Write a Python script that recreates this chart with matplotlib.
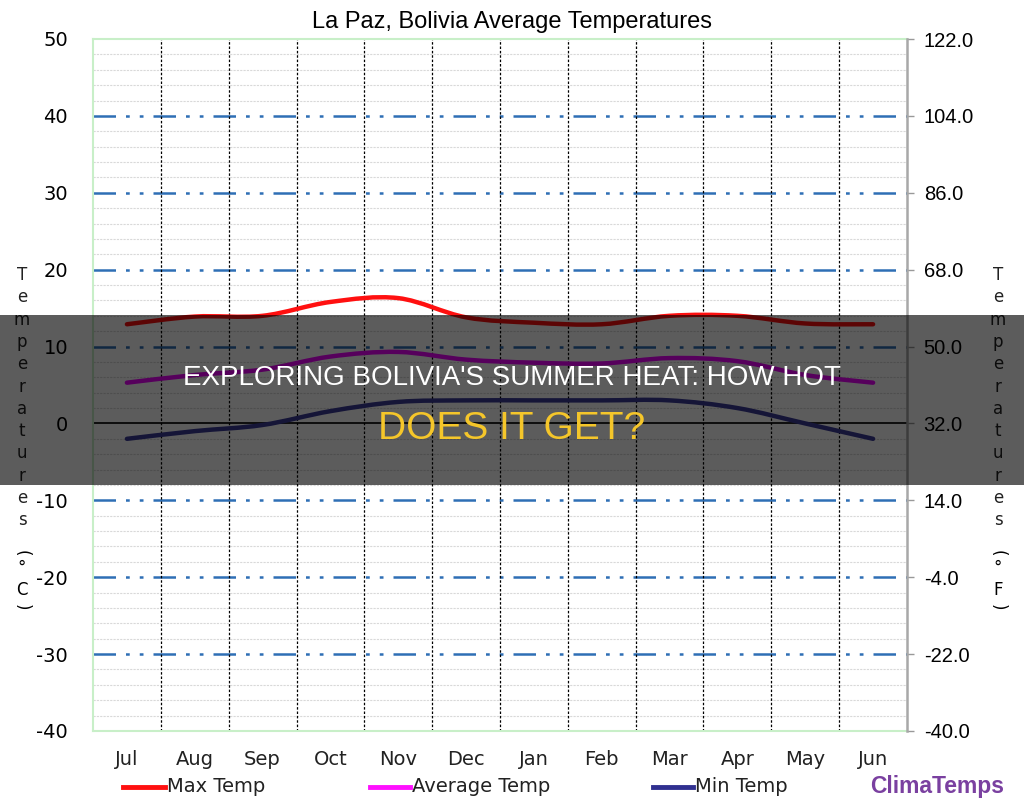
import numpy as np
import matplotlib
matplotlib.use('Agg')
import matplotlib.pyplot as plt
from matplotlib.path import Path
from matplotlib.patches import PathPatch, Rectangle
from matplotlib.lines import Line2D

months = ['Jul', 'Aug', 'Sep', 'Oct', 'Nov', 'Dec', 'Jan', 'Feb', 'Mar', 'Apr', 'May', 'Jun']
max_temp = [12.9, 13.9, 14.0, 15.8, 16.3, 13.8, 13.1, 12.9, 14.0, 14.0, 13.0, 12.9]
avg_temp = [5.3, 6.3, 7.0, 8.7, 9.3, 8.3, 7.9, 7.8, 8.5, 8.1, 6.3, 5.3]
min_temp = [-2.0, -1.0, -0.2, 1.6, 2.8, 3.0, 3.0, 3.0, 3.0, 2.0, 0.0, -2.0]
c_ticks = [50, 40, 30, 20, 10, 0, -10, -20, -30, -40]


def smooth_path(x, y):
    # catmull-rom -> bezier, same look as excel "smoothed line"
    p = np.column_stack([x, y]).astype(float)
    p = np.vstack([p[0], p, p[-1]])
    verts = [p[1]]
    codes = [Path.MOVETO]
    for i in range(1, len(p) - 2):
        c1 = p[i] + (p[i + 1] - p[i - 1]) / 6.0
        c2 = p[i + 1] - (p[i + 2] - p[i]) / 6.0
        verts += [c1, c2, p[i + 1]]
        codes += [Path.CURVE4] * 3
    return Path(verts, codes)


fig = plt.figure(figsize=(10.24, 8.10), dpi=100)
ax = fig.add_axes([93 / 1024, 1 - 731 / 810, 814 / 1024, 692 / 810])

x = np.arange(len(months))
ax.set_xlim(-0.5, 11.5)
ax.set_ylim(-40, 50)

# minor grid every 2 deg
for v in range(-38, 50, 2):
    if v % 10 == 0:
        continue
    ax.axhline(v, color='#d9d9d9', lw=0.8, ls=(0, (2, 1)), zorder=1)
for v in c_ticks[1:-1]:
    if v == 0:
        ax.axhline(0, color='black', lw=1.2, zorder=2)
    else:
        ax.axhline(v, color='#2e6fb5', lw=1.8, ls=(0, (9, 4, 1.5, 4, 1.5, 4)), zorder=2)
for b in np.arange(0.5, 11, 1):
    ax.axvline(b, color='black', lw=0.9, ls=(0, (2, 1.5)), zorder=2)

for vals, col in [(max_temp, '#ff1010'), (avg_temp, '#f000ff'), (min_temp, '#3a3a9a')]:
    ax.add_patch(PathPatch(smooth_path(x, vals), fill=False, edgecolor=col, lw=3.2,
                           capstyle='round', zorder=4))

ax.set_xticks(x)
ax.set_xticklabels(months, fontsize=14, color='#222222')
ax.set_yticks(c_ticks)
ax.set_yticklabels([str(v) for v in c_ticks], fontsize=14)
ax.tick_params(axis='x', length=0, pad=14)
ax.tick_params(axis='y', length=0, pad=18)
for s in ['left', 'top', 'bottom']:
    ax.spines[s].set_color('#c8efc8')
    ax.spines[s].set_linewidth(1.5)
ax.spines['right'].set_visible(False)

ax2 = ax.twinx()
ax2.set_ylim(-40 * 1.8 + 32, 50 * 1.8 + 32)
f_ticks = [v * 1.8 + 32 for v in c_ticks]
ax2.set_yticks(f_ticks)
ax2.set_yticklabels(['%.1f' % v for v in f_ticks], fontsize=14.5, family='Liberation Sans')
ax2.tick_params(axis='y', length=5, width=1, color='#999999', pad=7)
for s in ['left', 'top', 'bottom']:
    ax2.spines[s].set_visible(False)
ax2.spines['right'].set_color('#a8a8a8')
ax2.spines['right'].set_linewidth(1.8)

fig.text(0.5, 1 - 22 / 810, 'La Paz, Bolivia Average Temperatures', ha='center', va='center',
         fontsize=17, family='Liberation Sans')

# stacked axis titles
label = 'Temperatures'
for side_x, unit in [(22, 'C'), (998, 'F')]:
    for i, ch in enumerate(label):
        fig.text(side_x / 1024, 1 - (275 + i * 22.3) / 810, ch, ha='center', va='center',
                 fontsize=12, color='#222222')
    fig.text(side_x / 1024, 1 - 553 / 810, '(', rotation=-90, ha='center', va='center', fontsize=12)
    fig.text(side_x / 1024, 1 - 568 / 810, '\u00b0', ha='center', va='center', fontsize=12)
    fig.text(side_x / 1024, 1 - 590 / 810, unit, ha='center', va='center', fontsize=12)
    fig.text(side_x / 1024, 1 - 607 / 810, ')', rotation=-90, ha='center', va='center', fontsize=12)

# legend
ly = 1 - 787 / 810
for x0, x1, col, txt in [(123, 165, '#ff1010', 'Max Temp'), (370, 410, '#ff10ff', 'Average Temp'),
                         (142 + 511, 182 + 511, '#303090', 'Min Temp')]:
    fig.add_artist(Line2D([x0 / 1024, x1 / 1024], [ly, ly], color=col, lw=3.5,
                          transform=fig.transFigure))
    fig.text((x1 + 2) / 1024, ly, txt, ha='left', va='center', fontsize=14, color='#222222')
fig.text(937 / 1024, ly, 'ClimaTemps', ha='center', va='center', fontsize=16.5,
         fontweight='bold', color='#7a40a0', family='Liberation Sans')

# dark banner
fig.add_artist(Rectangle((0, 1 - 485 / 810), 1, 170 / 810, transform=fig.transFigure,
                         facecolor='black', alpha=0.64, edgecolor='none', zorder=10))
fig.text(0.5, 1 - 378 / 810, "EXPLORING BOLIVIA'S SUMMER HEAT: HOW HOT", ha='center', va='center',
         fontsize=20, color='white', family='Liberation Sans', zorder=11)
fig.text(0.5, 1 - 429 / 810, 'DOES IT GET?', ha='center', va='center',
         fontsize=28, color='#f5c62a', family='Liberation Sans', zorder=11)

plt.savefig('out.png', dpi=100)
